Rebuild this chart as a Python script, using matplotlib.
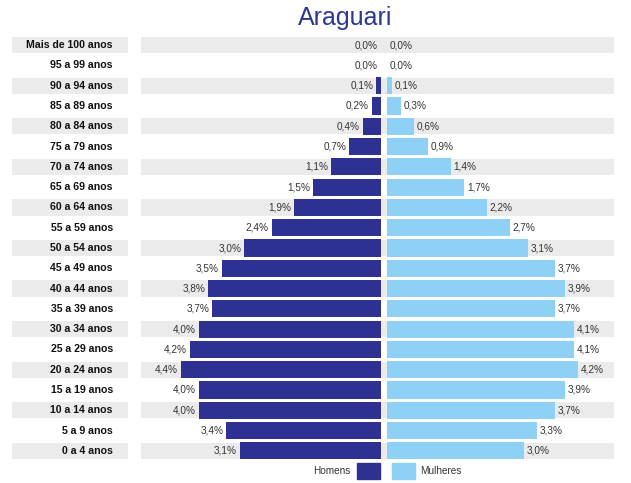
import matplotlib.pyplot as plt
from matplotlib.patches import Rectangle
import numpy as np

plt.rcParams['font.family'] = ['Liberation Sans', 'DejaVu Sans']

# dados (de baixo para cima)
faixas = ["0 a 4 anos", "5 a 9 anos", "10 a 14 anos", "15 a 19 anos", "20 a 24 anos",
          "25 a 29 anos", "30 a 34 anos", "35 a 39 anos", "40 a 44 anos", "45 a 49 anos",
          "50 a 54 anos", "55 a 59 anos", "60 a 64 anos", "65 a 69 anos", "70 a 74 anos",
          "75 a 79 anos", "80 a 84 anos", "85 a 89 anos", "90 a 94 anos", "95 a 99 anos",
          "Mais de 100 anos"]
homens = [3.1, 3.4, 4.0, 4.0, 4.4, 4.2, 4.0, 3.7, 3.8, 3.5, 3.0,
          2.4, 1.9, 1.5, 1.1, 0.7, 0.4, 0.2, 0.1, 0.0, 0.0]
mulheres = [3.0, 3.3, 3.7, 3.9, 4.2, 4.1, 4.1, 3.7, 3.9, 3.7, 3.1,
            2.7, 2.2, 1.7, 1.4, 0.9, 0.6, 0.3, 0.1, 0.0, 0.0]

cor_h = '#2e3192'
cor_m = '#8fd0f7'
cor_faixa = '#ebebeb'

fig = plt.figure(figsize=(6.31, 4.83), dpi=100)
ax = fig.add_axes([10 / 631, 22 / 483, 605 / 631, 426 / 483])

y = np.arange(len(faixas))
gap = 0.07
x_rot = -5.96

# faixas cinza alternadas
for i in y:
    if (len(faixas) - 1 - i) % 2 == 0:
        ax.barh(i, -5.63 - (-8.18), left=-8.18, height=0.8, color=cor_faixa, zorder=0)
        ax.barh(i, 5.05 - (-5.35), left=-5.35, height=0.8, color=cor_faixa, zorder=0)

ax.barh(y, [-v for v in homens], left=-gap, height=0.85, color=cor_h, zorder=2)
ax.barh(y, mulheres, left=gap, height=0.85, color=cor_m, zorder=2)

for i in y:
    ax.text(x_rot, i, faixas[i], ha='right', va='center', fontsize=7.6,
            fontweight='bold', color='#111111')
    ax.text(-gap - homens[i] - 0.06, i, f"{homens[i]:.1f}%".replace('.', ','),
            ha='right', va='center', fontsize=7.2, color='#333333', zorder=3)
    ax.text(gap + mulheres[i] + 0.06, i, f"{mulheres[i]:.1f}%".replace('.', ','),
            ha='left', va='center', fontsize=7.2, color='#333333', zorder=3)

ax.set_xlim(-8.22, 5.08)
ax.set_ylim(-0.5, len(faixas) - 0.5)
ax.axis('off')

fig.text(345 / 631, 1 - 18 / 483, "Araguari", ha='center', va='center',
         fontsize=18, color='#2b3990')

# legenda
fig.patches.append(Rectangle((357 / 631, 1 - 479 / 483), 23 / 631, 16 / 483,
                             transform=fig.transFigure, color=cor_h))
fig.patches.append(Rectangle((392 / 631, 1 - 479 / 483), 23 / 631, 16 / 483,
                             transform=fig.transFigure, color=cor_m))
fig.text(350 / 631, 1 - 471 / 483, "Homens", ha='right', va='center', fontsize=7.2, color='#333333')
fig.text(420 / 631, 1 - 471 / 483, "Mulheres", ha='left', va='center', fontsize=7.2, color='#333333')

fig.savefig('out.png', dpi=100, facecolor='white')
